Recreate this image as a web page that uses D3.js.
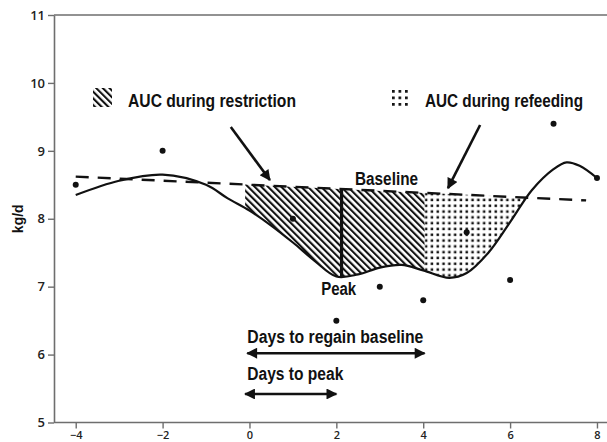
<!DOCTYPE html>
<html>
<head>
<meta charset="utf-8">
<script src="https://cdn.jsdelivr.net/npm/d3@7/dist/d3.min.js"></script>
<style>
  html, body { margin: 0; padding: 0; background: #fff; }
  svg { display: block; }
  .lbl { font-family: "Liberation Sans", Arial, sans-serif; font-weight: bold; fill: #111; }
  .tick text { font-family: "Open Sans", "Liberation Sans", sans-serif; font-weight: 600; fill: #222; }
</style>
</head>
<body>
<script>
// ---- data ----
const obsDays   = [-4, -2, 1, 2, 3, 4, 5, 6, 7, 8];
const obsValues = [8.5, 9.0, 8.0, 6.5, 7.0, 6.8, 7.8, 7.1, 9.4, 8.6];

const fitDays   = [-4, -3, -2, -1, -0.5, 0, 0.5, 1, 1.5, 2, 2.5, 3, 3.5, 4, 4.6, 5, 5.5, 6, 6.5, 7, 7.3, 7.6, 8];
const fitValues = [8.35, 8.56, 8.65, 8.5, 8.3, 8.12, 7.9, 7.65, 7.38, 7.15, 7.18, 7.28, 7.32, 7.24, 7.13, 7.2, 7.5, 7.95, 8.42, 8.73, 8.83, 8.78, 8.6];

const baselineDays   = [-4, 7.75];
const baselineValues = [8.62, 8.27];

const restrictionRange = [-0.1, 4.03];
const refeedingRange   = [4.03, 7.0];
const peakDay = 2.12, peakValue = 7.14;

const xTicks = [-4, -2, 0, 2, 4, 6, 8];
const yTicks = [5, 6, 7, 8, 9, 10, 11];

const legendLabels = ["AUC during restriction", "AUC during refeeding"];
const yLabel = "kg/d";

// ---- layout ----
const W = 607, H = 442;
const svg = d3.select("body").append("svg").attr("width", W).attr("height", H);
const x = d3.scaleLinear().domain([-4.5, 8.3]).range([54, 610]);
const y = d3.scaleLinear().domain([5, 11]).range([422.5, 15]);

const defs = svg.append("defs");
const hatch = defs.append("pattern").attr("id", "hatch").attr("patternUnits", "userSpaceOnUse")
  .attr("width", 4.7).attr("height", 10).attr("patternTransform", "rotate(-45)");
hatch.append("rect").attr("x", 0).attr("y", 0).attr("width", 2.1).attr("height", 10).attr("fill", "#111");
const dots = defs.append("pattern").attr("id", "dots").attr("patternUnits", "userSpaceOnUse")
  .attr("width", 5.8).attr("height", 5.8);
dots.append("rect").attr("x", 1.5).attr("y", 1.5).attr("width", 2.5).attr("height", 2.5).attr("fill", "#111");
const dots2 = defs.append("pattern").attr("id", "dots2").attr("patternUnits", "userSpaceOnUse")
  .attr("width", 6.5).attr("height", 6.5).attr("x", 392).attr("y", 90);
dots2.append("rect").attr("x", 0).attr("y", 0).attr("width", 2.7).attr("height", 2.7).attr("fill", "#111");

function marker(id, orient) {
  defs.append("marker").attr("id", id).attr("viewBox", "0 0 10 10").attr("refX", 9).attr("refY", 5)
    .attr("markerWidth", 5).attr("markerHeight", 4.2).attr("markerUnits", "strokeWidth")
    .attr("orient", orient)
    .append("path").attr("d", "M0,0 L10,5 L0,10 Z").attr("fill", "#111");
}
marker("arrEnd", "auto");
marker("arrStart", "auto-start-reverse");

const fitPts = fitDays.map((d, i) => [d, fitValues[i]]);
const lineGen = d3.line().x(d => x(d[0])).y(d => y(d[1])).curve(d3.curveCatmullRom.alpha(0.5));
const fitPath = lineGen(fitPts);
const baseAt = d => baselineValues[0] + (baselineValues[1] - baselineValues[0]) * (d - baselineDays[0]) / (baselineDays[1] - baselineDays[0]);

const aboveCurve = fitPath + `L${x(fitDays[fitDays.length-1])},${y(11)}L${x(fitDays[0])},${y(11)}Z`;
defs.append("clipPath").attr("id", "belowBase").append("path")
  .attr("d", `M${x(baselineDays[0])},${y(baselineValues[0])}L${x(baselineDays[1])},${y(baselineValues[1])}L${x(baselineDays[1])},${y(5)}L${x(baselineDays[0])},${y(5)}Z`);
function rangeClip(id, r) {
  defs.append("clipPath").attr("id", id).append("rect")
    .attr("x", x(r[0])).attr("y", 0).attr("width", x(r[1]) - x(r[0])).attr("height", H);
}
rangeClip("clipR", restrictionRange);
rangeClip("clipF", refeedingRange);

svg.append("g").attr("clip-path", "url(#clipR)").append("g").attr("clip-path", "url(#belowBase)")
  .append("path").attr("d", aboveCurve).attr("fill", "url(#hatch)");
svg.append("g").attr("clip-path", "url(#clipF)").append("g").attr("clip-path", "url(#belowBase)")
  .append("path").attr("d", aboveCurve).attr("fill", "url(#dots)");

// axes
const axColor = "#6e6e6e";
const gx = svg.append("g").attr("transform", `translate(0,${y(5)})`)
  .call(d3.axisBottom(x).tickValues(xTicks).tickFormat(d3.format("d")).tickSize(6).tickPadding(3).tickSizeOuter(0));
const gy = svg.append("g").attr("transform", `translate(${x(-4.5)},0)`)
  .call(d3.axisLeft(y).tickValues(yTicks).tickFormat(d3.format("d")).tickSize(6).tickPadding(3).tickSizeOuter(0));
[gx, gy].forEach(g => {
  g.selectAll(".domain").attr("stroke", axColor).attr("stroke-width", 1.6);
  g.selectAll(".tick line").attr("stroke", axColor).attr("stroke-width", 1.4);
});
gy.selectAll(".tick text").attr("font-size", 13);
gx.selectAll(".tick text").attr("font-size", 11);
gx.select(".domain").attr("d", `M${x(-4.5)},0H${W}`);
svg.append("line").attr("x1", x(-4.5)).attr("x2", W).attr("y1", y(11)).attr("y2", y(11))
  .attr("stroke", axColor).attr("stroke-width", 1.6);

svg.append("text").attr("class", "lbl").attr("font-size", 14)
  .attr("transform", `translate(23,${y(8)}) rotate(-90)`).attr("text-anchor", "middle").text(yLabel);

// baseline
svg.append("path").attr("d", d3.line().x(d => x(d[0])).y(d => y(d[1]))(baselineDays.map((d, i) => [d, baselineValues[i]])))
  .attr("fill", "none").attr("stroke", "#111").attr("stroke-width", 2.4).attr("stroke-dasharray", "13,9");

// fitted curve
svg.append("path").attr("d", fitPath).attr("fill", "none").attr("stroke", "#111").attr("stroke-width", 2.2);

// peak line
svg.append("line").attr("x1", x(peakDay)).attr("x2", x(peakDay)).attr("y1", y(baseAt(peakDay))).attr("y2", y(peakValue))
  .attr("stroke", "#111").attr("stroke-width", 3.2);

// observations
svg.append("g").selectAll("circle").data(obsDays.map((d, i) => [d, obsValues[i]])).join("circle")
  .attr("cx", d => x(d[0])).attr("cy", d => y(d[1])).attr("r", 3).attr("fill", "#111");

function label(txt, px, py, len) {
  svg.append("text").attr("class", "lbl").attr("font-size", 17.5).attr("x", px).attr("y", py)
    .attr("textLength", len).attr("lengthAdjust", "spacingAndGlyphs").text(txt);
}

// legend
svg.append("rect").attr("x", 93).attr("y", 88).attr("width", 19).attr("height", 19).attr("fill", "url(#hatch)");
svg.append("rect").attr("x", 392).attr("y", 90).attr("width", 16).attr("height", 16).attr("fill", "url(#dots2)");
label(legendLabels[0], 128, 107, 168);
label(legendLabels[1], 425, 107, 158);

function arrow(x1, y1, x2, y2, both) {
  const l = svg.append("line").attr("x1", x(x1)).attr("y1", y(y1)).attr("x2", x(x2)).attr("y2", y(y2))
    .attr("stroke", "#111").attr("stroke-width", 2.6).attr("marker-end", "url(#arrEnd)");
  if (both) l.attr("marker-start", "url(#arrStart)");
}
arrow(-0.43, 9.35, 0.47, 8.57, false);
arrow(5.31, 9.38, 4.57, 8.45, false);
arrow(-0.05, 6.02, 4.03, 6.02, true);
arrow(-0.1, 5.42, 2.0, 5.42, true);

label("Baseline", x(2.43), y(8.5), 63);
label("Peak", x(1.65), y(6.88), 35);
label("Days to regain baseline", x(-0.05), y(6.17), 176);
label("Days to peak", x(-0.05), y(5.62), 96);
</script>
</body>
</html>
